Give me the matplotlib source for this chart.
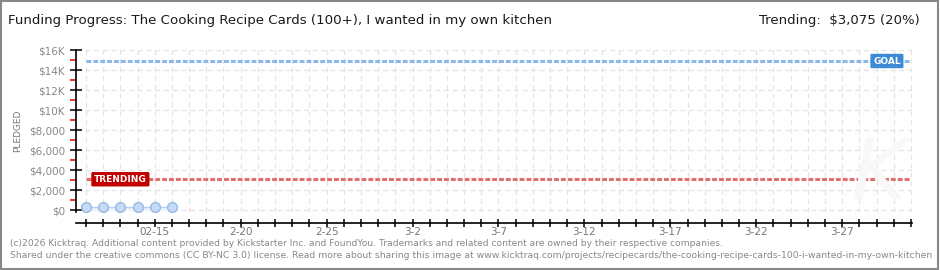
import numpy as np
import pandas as pd
import matplotlib
matplotlib.use('Agg')
import matplotlib.pyplot as plt
import matplotlib.dates as mdates

# data
days = pd.to_datetime(['2026-02-11', '2026-02-12', '2026-02-13',
                       '2026-02-14', '2026-02-15', '2026-02-16'])
pledged = [330, 330, 330, 330, 330, 330]
goal = 14900
trend = 3075
start = pd.Timestamp('2026-02-11')
end = pd.Timestamp('2026-03-31')
label_days = pd.date_range('2026-02-15', periods=9, freq='5D')
label_text = ['02-15', '2-20', '2-25', '3-2', '3-7', '3-12', '3-17', '3-22', '3-27']
ytick_vals = np.arange(0, 16001, 2000)
ytick_text = ['$0', '$2,000', '$4,000', '$6,000', '$8,000', '$10K', '$12K', '$14K', '$16K']

W, H = 940, 270
fig = plt.figure(figsize=(W / 100, H / 100), dpi=100)
fig.patch.set_facecolor('white')

left_px, right_px, top_px, bot_px = 76, 912, 50, 212
ax = fig.add_axes([left_px / W, 1 - bot_px / H, (right_px - left_px) / W, (bot_px - top_px) / H])

x0 = mdates.date2num(start)
x1 = mdates.date2num(end)
ppd = (911 - 86) / (x1 - x0)
ax.set_xlim(x0 - 10 / ppd, x0 + (right_px - 86) / ppd)
ax.set_ylim(-200, 16000)

grid_c = '#e4e4e4'
all_days = pd.date_range(start, end, freq='D')
ax.set_xticks(mdates.date2num(all_days))
lab = {d: t for d, t in zip(label_days, label_text)}
ax.set_xticklabels([lab.get(d, '') for d in all_days])
ax.set_yticks(ytick_vals)
ax.set_yticklabels(ytick_text)
ax.set_yticks(np.arange(1000, 16000, 2000), minor=True)

ax.grid(True, which='major', color=grid_c, linestyle=(0, (4, 3)), linewidth=0.9)
ax.set_axisbelow(True)

for s in ['top', 'right']:
    ax.spines[s].set_visible(False)
ax.spines['bottom'].set_position(('outward', 8))
ax.spines['left'].set_linewidth(1.2)
ax.spines['bottom'].set_linewidth(1.2)
ax.tick_params(axis='x', direction='inout', length=6, width=1.1, colors='black',
               labelcolor='#777777', labelsize=7.5, pad=0)
ax.tick_params(axis='y', which='major', direction='inout', length=8, width=1.1,
               colors='black', labelcolor='#888888', labelsize=7.5, pad=4)
ax.tick_params(axis='y', which='minor', direction='out', length=4, width=1.1, colors='#e00000')

# goal and trending lines
ax.plot([start, end], [goal, goal], color='#8ab8e8', lw=2.2,
        linestyle=(0, (1.6, 0.65)), solid_capstyle='butt', dash_capstyle='butt', zorder=3)
ax.plot([start, end], [trend, trend], color='#e07070', lw=2.2,
        linestyle=(0, (1.6, 0.65)), solid_capstyle='butt', dash_capstyle='butt', zorder=3)

ax.text(x0 + 2.0, trend, 'TRENDING', color='white', fontsize=6.5, fontweight='bold',
        ha='center', va='center', zorder=5,
        bbox=dict(boxstyle='round,pad=0.3,rounding_size=0.15', fc='#c00000', ec='none'))
ax.text(x0 + 46.6, goal, 'GOAL', color='white', fontsize=6.5, fontweight='bold',
        ha='center', va='center', zorder=5,
        bbox=dict(boxstyle='round,pad=0.3,rounding_size=0.15', fc='#3d8ad6', ec='none'))

# pledged series
ax.fill_between(days, 0, pledged, color='#eef4fc', zorder=2)
ax.plot(days, pledged, color='#b5d0f0', lw=1, marker='o', ms=7,
        mfc='#c6dcf6', mec='#94b8e2', mew=1, zorder=4)

ax.set_ylabel('PLEDGED', color='#777777', fontsize=6.5, labelpad=5)

# watermark
fig.text(0.935, 0.35, 'K', fontsize=60, color='#f8f8f8', style='italic',
         ha='center', va='center', zorder=0)

fig.text(8 / W, 1 - 21 / H,
         'Funding Progress: The Cooking Recipe Cards (100+), I wanted in my own kitchen',
         fontsize=9.6, color='#1a1a1a', va='center')
fig.text(920 / W, 1 - 21 / H, 'Trending:  $3,075 (20%)', fontsize=9.5,
         color='#1a1a1a', va='center', ha='right')

fig.text(10 / W, 1 - 243 / H,
         '(c)2026 Kicktraq. Additional content provided by Kickstarter Inc. and FoundYou. '
         'Trademarks and related content are owned by their respective companies.',
         fontsize=6.6, color='#888888', va='center')
fig.text(10 / W, 1 - 256 / H,
         'Shared under the creative commons (CC BY-NC 3.0) license. Read more about sharing this image at '
         'www.kicktraq.com/projects/recipecards/the-cooking-recipe-cards-100-i-wanted-in-my-own-kitchen',
         fontsize=6.7, color='#888888', va='center')

# outer frame
fig.add_artist(plt.Rectangle((0.001, 0.002), 0.997, 0.995, transform=fig.transFigure,
                             fill=False, ec='#888888', lw=1.5))

fig.savefig('out.png', dpi=100)
